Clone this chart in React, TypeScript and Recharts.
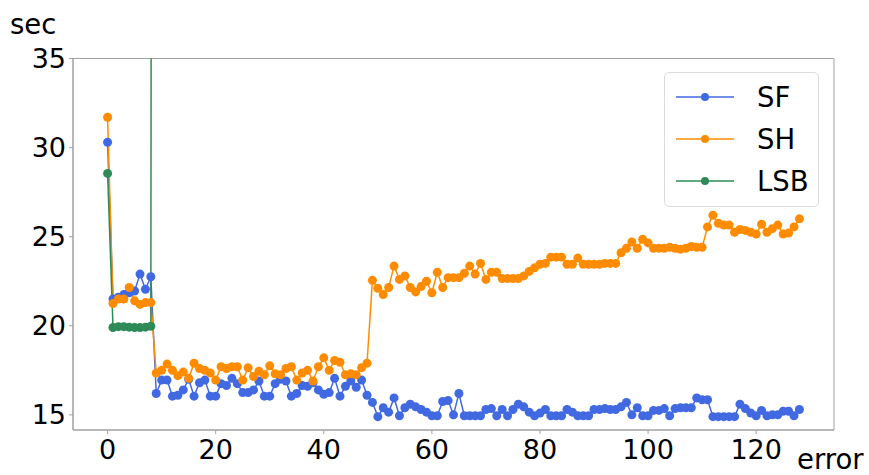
import { Line, LineChart, ReferenceArea, XAxis, YAxis } from "recharts"

// seconds per error step
const sf = [
  30.3, 21.5, 21.6, 21.75, 21.85, 21.95, 22.9, 22.05, 22.75, 16.2,
  16.95, 16.95, 16.05, 16.1, 16.4, 17.0, 16.05, 16.8, 16.95, 16.05,
  16.05, 16.75, 16.65, 17.05, 16.75, 16.25, 16.25, 16.4, 16.9, 16.05,
  16.05, 16.75, 17.0, 16.9, 16.05, 16.2, 16.65, 16.6, 16.8, 16.4,
  16.15, 16.25, 17.05, 16.05, 16.6, 16.9, 16.55, 16.95, 16.1, 15.7,
  14.9, 15.4, 15.15, 15.95, 14.95, 15.4, 15.6, 15.45, 15.3, 15.15,
  14.95, 14.95, 15.75, 15.8, 15.0, 16.2, 14.95, 14.95, 14.95, 14.95,
  15.3, 15.35, 14.95, 15.3, 14.95, 15.3, 15.6, 15.45, 15.15, 14.95,
  15.1, 15.3, 14.95, 14.95, 14.95, 15.3, 15.15, 14.95, 14.95, 14.95,
  15.3, 15.3, 15.35, 15.3, 15.3, 15.45, 15.7, 15.0, 15.4, 14.95,
  14.95, 15.25, 15.25, 15.35, 14.95, 15.35, 15.4, 15.4, 15.4, 15.95,
  15.85, 15.85, 14.9, 14.9, 14.9, 14.9, 14.9, 15.6, 15.35, 15.1,
  14.95, 15.25, 14.95, 15.0, 15.0, 15.2, 15.2, 14.95, 15.3,
]

const sh = [
  31.7, 21.25, 21.5, 21.5, 22.15, 21.4, 21.2, 21.3, 21.3, 17.35,
  17.5, 17.85, 17.5, 17.2, 17.4, 17.05, 17.9, 17.6, 17.5, 17.35,
  16.95, 17.7, 17.6, 17.7, 17.7, 16.95, 17.65, 17.15, 17.45, 17.25,
  17.75, 17.3, 17.25, 17.6, 17.7, 16.95, 17.35, 17.5, 16.9, 17.7,
  18.2, 17.5, 18.05, 17.95, 17.25, 17.3, 17.25, 17.65, 17.9, 22.55,
  22.1, 21.75, 22.15, 23.35, 22.6, 22.8, 22.15, 21.9, 22.2, 22.5,
  21.85, 23.0, 22.15, 22.7, 22.7, 22.7, 22.95, 23.35, 22.9, 23.5,
  22.6, 23.0, 23.0, 22.65, 22.65, 22.65, 22.65, 22.8, 23.05, 23.25,
  23.45, 23.5, 23.85, 23.85, 23.85, 23.45, 23.45, 23.8, 23.45, 23.45,
  23.45, 23.45, 23.5, 23.5, 23.5, 24.1, 24.35, 24.7, 24.35, 24.85,
  24.65, 24.35, 24.35, 24.35, 24.4, 24.35, 24.3, 24.35, 24.45, 24.4,
  24.4, 25.55, 26.2, 25.75, 25.65, 25.65, 25.25, 25.4, 25.35, 25.25,
  25.15, 25.7, 25.25, 25.45, 25.65, 25.15, 25.2, 25.55, 26.0,
]

// LSB shoots off the top after step 8
const lsb = [28.55, 19.9, 19.95, 19.95, 19.92, 19.9, 19.9, 19.92, 19.97, 300]

const xTicks = [0, 20, 40, 60, 80, 100, 120]
const yTicks = [15, 20, 25, 30, 35]

const series = [
  { key: "sf", name: "SF", color: "#4169E1" },
  { key: "sh", name: "SH", color: "#FF8C00" },
  { key: "lsb", name: "LSB", color: "#2E8B57" },
]

const dados = sf.map((v, i) => ({
  error: i,
  sf: v,
  sh: sh[i],
  lsb: i < lsb.length ? lsb[i] : null,
}))

const fonte = "'DejaVu Sans', sans-serif"

function Legenda() {
  return (
    <div
      style={{
        position: "absolute",
        left: 664,
        top: 72,
        width: 155,
        height: 135,
        boxSizing: "border-box",
        border: "1px solid #dcdcdc",
        borderRadius: 5,
        background: "rgba(255,255,255,0.8)",
        paddingTop: 3,
      }}
    >
      {series.map((s) => (
        <div
          key={s.key}
          style={{ display: "flex", alignItems: "center", height: 42 }}
        >
          <svg width={60} height={12} style={{ marginLeft: 10 }}>
            <line x1={1} x2={59} y1={6} y2={6} stroke={s.color} strokeWidth={1.5} />
            <circle cx={30} cy={6} r={4} fill={s.color} />
          </svg>
          <span
            style={{
              fontFamily: fonte,
              fontSize: 27.5,
              lineHeight: "32px",
              color: "#000",
              marginLeft: 22,
            }}
          >
            {s.name}
          </span>
        </div>
      ))}
    </div>
  )
}

export default function App() {
  return (
    <div style={{ position: "absolute", left: 0, top: 0, width: 869, height: 475, background: "#fff" }}>
      <LineChart
        width={869}
        height={475}
        data={dados}
        margin={{ top: 58.5, right: 35, bottom: 0, left: 0 }}
      >
        <XAxis
          dataKey="error"
          type="number"
          domain={[-6.4, 134.4]}
          ticks={xTicks}
          allowDataOverflow
          height={45}
          tickSize={4}
          tickMargin={6}
          stroke="#a0a0a0"
          tick={{ fill: "#000", fontSize: 27, fontFamily: fonte }}
        />
        <YAxis
          type="number"
          domain={[14.15, 35]}
          ticks={yTicks}
          allowDataOverflow
          width={73}
          tickSize={4}
          tickMargin={3}
          stroke="#a0a0a0"
          tick={{ fill: "#000", fontSize: 27, fontFamily: fonte }}
        />
        <ReferenceArea
          x1={-6.4}
          x2={134.4}
          y1={14.15}
          y2={35}
          fill="none"
          stroke="#a0a0a0"
          strokeWidth={1}
        />
        {series.map((s) => (
          <Line
            key={s.key}
            dataKey={s.key}
            name={s.name}
            type="linear"
            stroke={s.color}
            strokeWidth={1.5}
            dot={{ r: 4.5, fill: s.color, stroke: s.color, strokeWidth: 0 }}
            activeDot={false}
            connectNulls={false}
            isAnimationActive={false}
          />
        ))}
      </LineChart>
      <Legenda />
      <div
        style={{
          position: "absolute",
          left: 10,
          top: 8,
          fontFamily: fonte,
          fontSize: 27.5,
          lineHeight: "32px",
          color: "#000",
        }}
      >
        sec
      </div>
      <div
        style={{
          position: "absolute",
          left: 797,
          top: 443,
          fontFamily: fonte,
          fontSize: 27.5,
          lineHeight: "32px",
          color: "#000",
        }}
      >
        error
      </div>
    </div>
  )
}
